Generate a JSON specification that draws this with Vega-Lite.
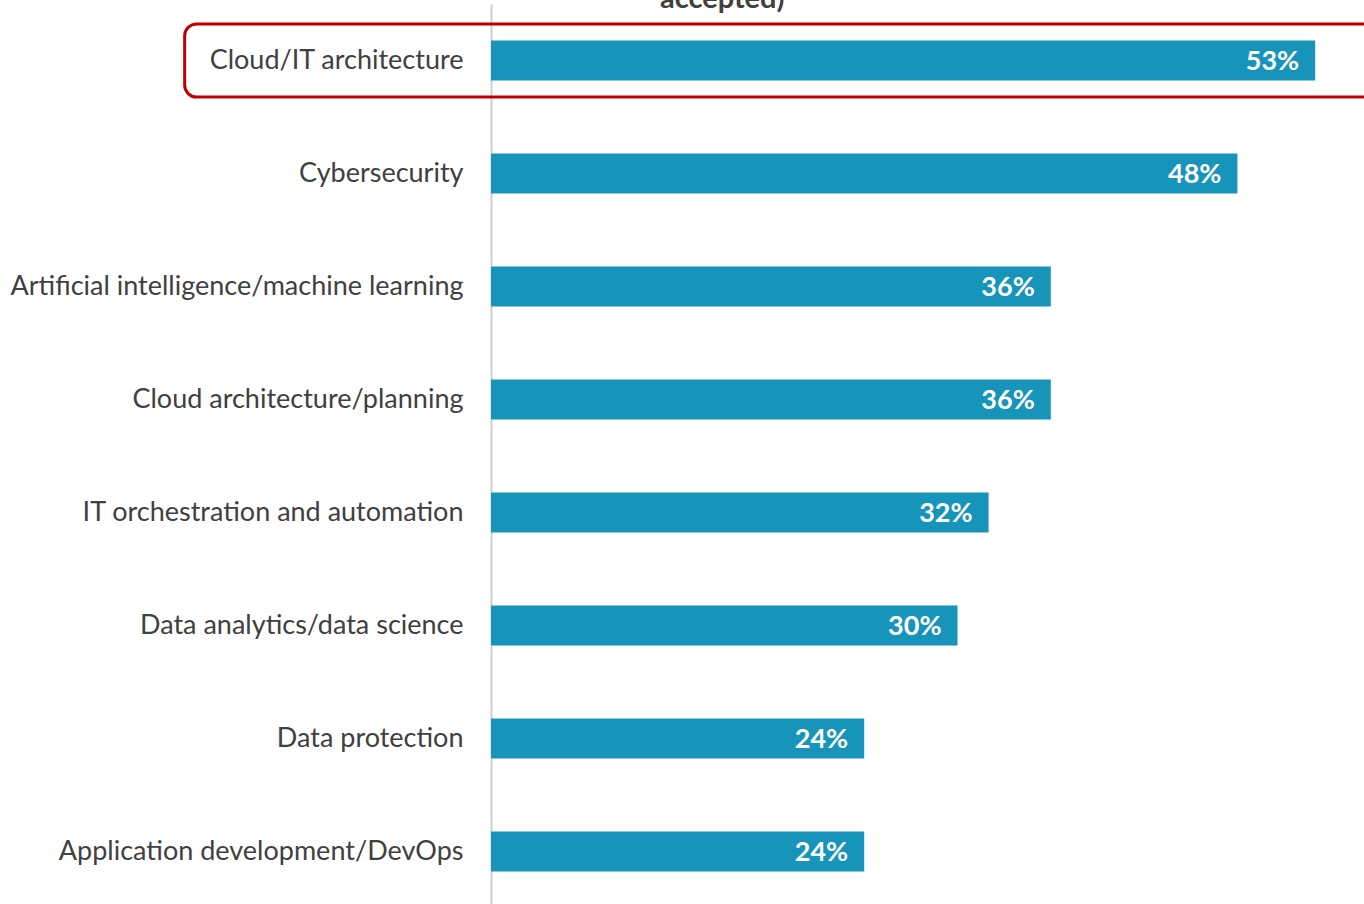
{
  "$schema": "https://vega.github.io/schema/vega-lite/v6.json",
  "autosize": {"type": "none"},
  "padding": {"left": 491, "top": 4, "right": 0, "bottom": 0},
  "width": 873,
  "height": 904,
  "background": "white",
  "title": {
    "text": "accepted)",
    "anchor": "start",
    "frame": "group",
    "dx": 169,
    "offset": -10,
    "fontSize": 29,
    "font": "Lato",
    "fontWeight": "bold",
    "color": "#404040"
  },
  "config": {"view": {"stroke": null}},
  "data": {
    "values": [
      {"skill": "Cloud/IT architecture", "pct": 0.53},
      {"skill": "Cybersecurity", "pct": 0.48},
      {"skill": "Artificial intelligence/machine learning", "pct": 0.36},
      {"skill": "Cloud architecture/planning", "pct": 0.36},
      {"skill": "IT orchestration and automation", "pct": 0.32},
      {"skill": "Data analytics/data science", "pct": 0.30},
      {"skill": "Data protection", "pct": 0.24},
      {"skill": "Application development/DevOps", "pct": 0.24}
    ]
  },
  "encoding": {
    "y": {
      "field": "skill",
      "type": "nominal",
      "sort": null,
      "scale": {"paddingInner": 0.646, "paddingOuter": 0.323},
      "axis": {
        "title": null,
        "ticks": false,
        "labelPadding": 28,
        "labelFontSize": 27,
        "labelFont": "Lato",
        "labelColor": "#404040",
        "labelLimit": 600,
        "domainColor": "#d0d0d0",
        "domainWidth": 2
      }
    }
  },
  "layer": [
    {
      "mark": {"type": "bar", "color": "#1794BA"},
      "encoding": {
        "x": {
          "field": "pct",
          "type": "quantitative",
          "scale": {"domain": [0, 0.5614], "nice": false, "zero": true},
          "axis": null
        }
      }
    },
    {
      "mark": {"type": "text", "align": "right", "dx": -16, "dy": 1, "color": "white", "fontSize": 27, "font": "Lato", "fontWeight": "bold", "baseline": "middle"},
      "encoding": {
        "x": {"field": "pct", "type": "quantitative"},
        "text": {"field": "pct", "type": "quantitative", "format": ".0%"}
      }
    },
    {
      "transform": [{"filter": "datum.skill === 'Cloud/IT architecture'"}, {"calculate": "-0.197", "as": "x0"}, {"calculate": "0.575", "as": "x1"}],
      "mark": {"type": "rect", "fill": null, "filled": false, "stroke": "#c00000", "strokeWidth": 3, "cornerRadius": 12, "clip": false, "height": {"band": 1.83}},
      "encoding": {
        "x": {"field": "x0", "type": "quantitative"},
        "x2": {"field": "x1"}
      }
    }
  ]
}
